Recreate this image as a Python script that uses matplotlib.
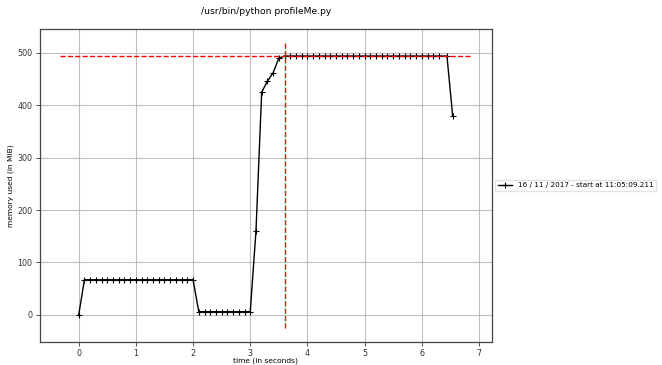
import matplotlib
matplotlib.use("Agg")
import matplotlib.pyplot as plt

title = "/usr/bin/python profileMe.py"
label = "16 / 11 / 2017 - start at 11:05:09.211"

times = [0.0, 0.1, 0.2, 0.3, 0.4, 0.5, 0.6, 0.7, 0.8, 0.9, 1.0,
         1.1, 1.2, 1.3, 1.4, 1.5, 1.6, 1.7, 1.8, 1.9, 2.0,
         2.1, 2.2, 2.3, 2.4, 2.5, 2.6, 2.7, 2.8, 2.9, 3.0,
         3.1, 3.2, 3.3, 3.4, 3.5, 3.6, 3.7, 3.8, 3.9, 4.0,
         4.1, 4.2, 4.3, 4.4, 4.5, 4.6, 4.7, 4.8, 4.9, 5.0,
         5.1, 5.2, 5.3, 5.4, 5.5, 5.6, 5.7, 5.8, 5.9, 6.0,
         6.1, 6.2, 6.3, 6.44, 6.54]
mem = [0, 67, 67, 67, 67, 67, 67, 67, 67, 67, 67,
       67, 67, 67, 67, 67, 67, 67, 67, 67, 67,
       6, 6, 6, 6, 6, 6, 6, 6, 6, 6,
       160, 425, 446, 462, 490, 494, 494, 494, 494, 494,
       494, 494, 494, 494, 494, 494, 494, 494, 494, 494,
       494, 494, 494, 494, 494, 494, 494, 494, 494, 494,
       494, 494, 494, 494, 380]

plt.rcParams['font.family'] = ['DejaVu Sans']
fs_tick = 5.8
fs_lab = 5.4
fs_leg = 5.2

fig = plt.figure(figsize=(6.62, 3.65), dpi=100)
ax = fig.add_axes([0.0597, 0.063, 0.6833, 0.858])

ax.plot(times, mem, color='k', marker='+', markersize=5, markeredgewidth=0.8,
        linewidth=1.0, label=label)

imax = mem.index(max(mem))
ylim = ax.get_ylim()
xlim = ax.get_xlim()
ax.vlines(times[imax], ylim[0] + 0.001, ylim[1] - 0.001, colors='r', linestyles='--', linewidth=1.0)
ax.hlines(max(mem), xlim[0] + 0.001, xlim[1] - 0.001, colors='r', linestyles='--', linewidth=1.0)

ax.grid(True, color='#b0b0b0', linewidth=0.8, alpha=0.8)
ax.set_axisbelow(True)
ax.tick_params(labelsize=fs_tick, length=3, width=0.6, pad=2, colors='#333333', labelcolor='#333333')
ax.set_xlabel("time (in seconds)", fontsize=fs_lab, labelpad=0)
ax.set_ylabel("memory used (in MiB)", fontsize=fs_lab, labelpad=2.5)
ax.set_title(title, fontsize=6.6, pad=11)
for s in ax.spines.values():
    s.set_color('#444444')
    s.set_linewidth(0.9)

ax.legend(loc='center left', bbox_to_anchor=(1, 0.5), fontsize=fs_leg, frameon=True,
          fancybox=False, edgecolor='#dddddd', handlelength=2.0, borderaxespad=0.4)

fig.savefig("out.png", dpi=100)
